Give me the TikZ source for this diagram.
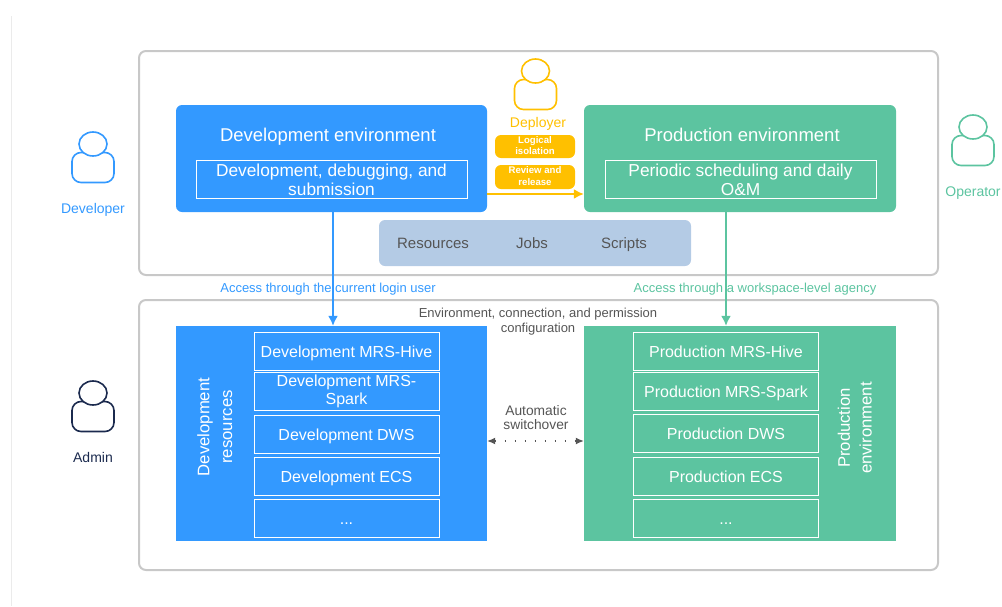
\documentclass[tikz,border=0pt]{standalone}
\usepackage{fontspec}
\usepackage{xcolor}
\setmainfont{Liberation Sans}
\usepackage{tikz}
\usetikzlibrary{calc}
\usetikzlibrary{arrows.meta,positioning,shapes.geometric}
\definecolor{devblue}{HTML}{3399FF}
\definecolor{prodgreen}{HTML}{5CC4A0}
\definecolor{deployyellow}{HTML}{FFC000}
\definecolor{adminnavy}{HTML}{1B2A4E}
\definecolor{sharedblue}{HTML}{B4CBE5}
\definecolor{framegray}{HTML}{C8C8C8}
\definecolor{notegray}{HTML}{555555}
\newcommand{\fsize}[1]{\fontsize{#1}{#1}\selectfont}
\newcommand{\tstrut}{\rule{0pt}{.97em}}
\newcommand{\lstrut}{\vphantom{Ap}}
\newcommand{\bstrut}{\rule[-.21em]{0pt}{0pt}}
% one person: head over body
\newcommand{\personicon}[4]{
	\node[person_body,draw=#4](#1body) at (#2,#3+23.5){};
	\node[person_head,draw=#4](#1head) at (#2,#3){};
}
\begin{document}
\begin{tikzpicture}[x=1pt,y=-1pt,
	every node/.style={execute at begin node=\tstrut,execute at end node=\bstrut},
	frame_box/.style={draw=framegray,line width=2pt,rounded corners=7pt,minimum width=799pt,inner sep=0pt},
	env_box/.style={fill=#1,inner sep=0pt,minimum width=311pt,minimum height=107pt,rounded corners=6pt},
	res_box/.style={fill=#1,inner sep=0pt,minimum width=311pt,minimum height=215pt},
	inner_box/.style={draw=white,line width=1pt,inner sep=0pt,minimum width=271pt,minimum height=38pt},
	work_text/.style={text=white,align=center,inner sep=0pt,font=\fsize{17.3}},
	item_box/.style={draw=white,line width=1pt,inner sep=0pt,minimum width=185pt,minimum height=38pt,text=white,align=center,font=\fsize{16}},
	title_text/.style={text=white,font=\fsize{18.5}},
	side_text/.style={text=white,align=center,rotate=90,font=\fsize{16.7}},
	pill_box/.style={fill=deployyellow,rounded corners=6pt,inner sep=0pt,minimum width=80pt,minimum height=23pt,text=white,align=center,font=\bfseries\fsize{9.6}},
	person_head/.style={ellipse,fill=white,line width=1.6pt,minimum width=28pt,minimum height=24pt,inner sep=0pt},
	person_body/.style={rectangle,rounded corners=9pt,fill=white,line width=1.6pt,minimum width=42pt,minimum height=30pt,inner sep=0pt},
	person_text/.style={font=\fsize{14}},
	note_text/.style={text=notegray,align=center,font=\fsize{13}},
	flow_line/.style={-{Latex[length=10pt,width=10pt]},#1,line width=1.7pt}]
	\useasboundingbox (0,0) rectangle (1002,606);
	\draw[black!8] (11,16) -- (11,606);

	\node[frame_box,minimum height=224pt](top_frame) at (538.5,163){};
	\node[frame_box,minimum height=270pt](bottom_frame) at (538.5,435){};

	\node[env_box=devblue](dev_env) at (331.5,158.5){};
	\node[env_box=prodgreen,minimum width=312pt](prod_env) at (740,158.5){};
	\node[title_text] (dev_title) at (328,134){Development environment};
	\node[title_text] (prod_title) at (742,134){Production environment};
	\node[inner_box] (dev_work) at (331.5,179){};
	\node[inner_box] (prod_work) at (740.5,179){};
	\node[work_text] (dev_work_text) at (331.5,181.5){Development, debugging, and\\[2pt]\lstrut submission};
	\node[work_text] (prod_work_text) at (740.5,181.5){Periodic scheduling and daily\\[2pt]\lstrut O\&M};

	\node[fill=sharedblue,rounded corners=6pt,minimum width=312pt,minimum height=46pt,inner sep=0pt](shared) at (535,243){};
	\node[text=notegray,font=\fsize{15}] (resources) at (433,243){Resources};
	\node[text=notegray,font=\fsize{15}] (jobs) at (532,243){Jobs};
	\node[text=notegray,font=\fsize{15}] (scripts) at (624,243){Scripts};

	\personicon{developer}{93}{144}{devblue}
	\personicon{deployer}{535.5}{71}{deployyellow}
	\personicon{operator}{973}{127}{prodgreen}
	\personicon{admin}{93}{393}{adminnavy}
	\node[person_text,text=devblue] (developer) at (93,208){Developer};
	\node[person_text,text=deployyellow] (deployer) at (538,122.5){Deployer};
	\node[person_text,text=prodgreen] (operator) at (973,191){Operator};
	\node[person_text,text=adminnavy] (admin) at (93,457){Admin};

	\node[pill_box] (isolation) at (535,146.5){Logical\\[1.5pt]\lstrut isolation};
	\node[pill_box,minimum height=24pt] (review) at (535,177){Review and\\[1.5pt]\lstrut release};

	\node[res_box=devblue](dev_res) at (331.5,433.5){};
	\node[res_box=prodgreen,minimum width=312pt](prod_res) at (740,433.5){};
	\node[side_text] (dev_side) at (216.5,427){Development\\[6pt]\lstrut resources};
	\node[side_text] (prod_side) at (856.5,428){Production\\[5pt]\lstrut environment};

	\foreach \n/\y/\txt in {hive/351/{Development MRS-Hive},spark/391/{Development MRS-\\[2pt]\lstrut Spark},dws/434/{Development DWS},ecs/476/{Development ECS},more/518.5/{...}}
		\node[item_box] (dev_\n) at (346.5,\y){\txt};
	\foreach \n/\y/\txt in {hive/351/{Production MRS-Hive},spark/391/{Production MRS-Spark},dws/433/{Production DWS},ecs/476/{Production ECS},more/518.5/{...}}
		\node[item_box] (prod_\n) at (726,\y){\txt};

	\node[note_text,text=devblue] (dev_access) at (328,287.5){Access through the current login user};
	\node[note_text,text=prodgreen] (prod_access) at (755,287.5){Access through a workspace-level agency};
	\node[note_text] (config) at (538,322){Environment, connection, and permission\\[2pt]\lstrut configuration};
	\node[note_text,font=\fsize{13.8}] (switchover) at (536,419){Automatic\\\lstrut switchover};

	\draw[flow_line=deployyellow] ([yshift=-35.5pt]dev_env.east) -- ([yshift=-35.5pt]prod_env.west);
	\draw[flow_line=devblue] ([xshift=1.5pt]dev_env.south) -- ([xshift=1.5pt]dev_res.north);
	\draw[flow_line=prodgreen] ([xshift=-14pt]prod_env.south) -- ([xshift=-14pt]prod_res.north);
	\draw[{Latex[length=8pt,width=7pt]}-{Latex[length=8pt,width=7pt]},notegray,line width=1.2pt,dash pattern=on 1.5pt off 8.5pt] ([yshift=-7.5pt]dev_res.east) -- ([yshift=-7.5pt]prod_res.west);
\end{tikzpicture}
\end{document}
